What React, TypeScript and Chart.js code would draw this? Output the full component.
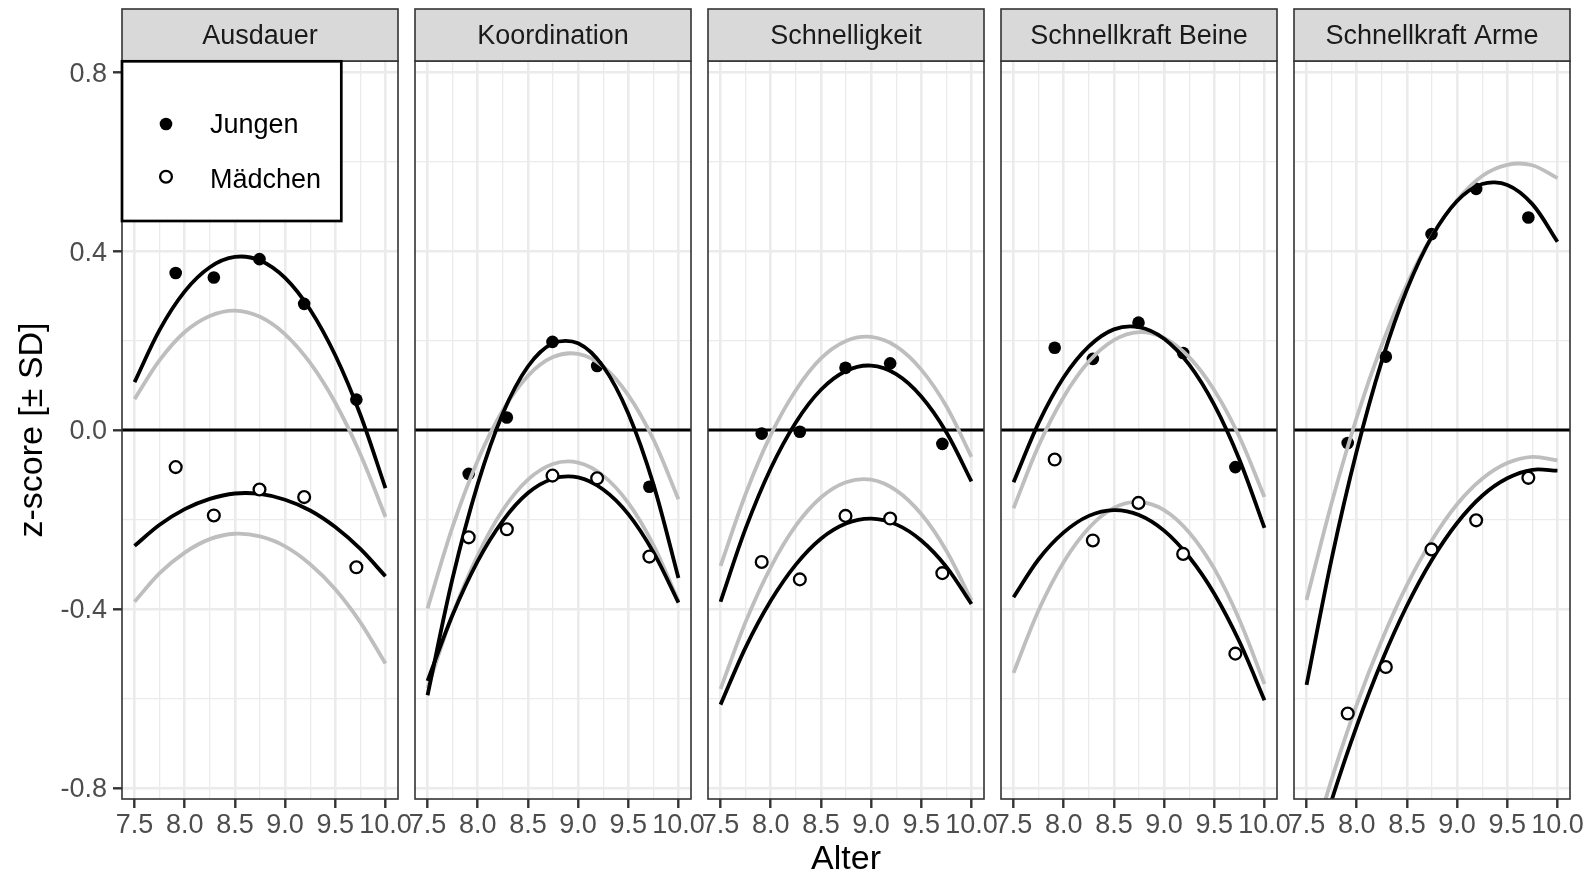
import React, { useEffect, useRef } from "react";
import { Chart, registerables } from "chart.js";

Chart.register(...registerables);
Chart.defaults.font.family = "'Liberation Sans', Arial, Helvetica, sans-serif";

// ---------------- data ----------------
const facetNames = ["Ausdauer", "Koordination", "Schnelligkeit", "Schnellkraft Beine", "Schnellkraft Arme"];
const legendLabels = ["Jungen", "Mädchen"];
const xAxisTitle = "Alter";
const yAxisTitle = "z-score [± SD]";

const pointAges = [7.91, 8.29, 8.745, 9.19, 9.71];
const curveAges = [7.5, 7.75, 8.0, 8.25, 8.5, 8.75, 9.0, 9.25, 9.5, 9.75, 10.0];

const xTickValues = [7.5, 7.75, 8.0, 8.25, 8.5, 8.75, 9.0, 9.25, 9.5, 9.75, 10.0];
const xTickLabels = ["7.5", "", "8.0", "", "8.5", "", "9.0", "", "9.5", "", "10.0"];
const yTickValues = [-0.8, -0.6, -0.4, -0.2, 0.0, 0.2, 0.4, 0.6, 0.8];
const yTickLabels = ["-0.8", "", "-0.4", "", "0.0", "", "0.4", "", "0.8"];
const xRange = [7.375, 10.125];
const yRange = [-0.825, 0.825];

// points per facet (Ausdauer, Koordination, Schnelligkeit, Schnellkraft Beine, Schnellkraft Arme)
const jungenPoints = [
  [0.351, 0.341, 0.382, 0.282, 0.068],
  [-0.098, 0.028, 0.197, 0.143, -0.127],
  [-0.008, -0.004, 0.139, 0.149, -0.031],
  [0.184, 0.159, 0.24, 0.172, -0.083],
  [-0.029, 0.164, 0.438, 0.539, 0.475],
];
const maedchenPoints = [
  [-0.083, -0.191, -0.133, -0.15, -0.307],
  [-0.24, -0.222, -0.102, -0.108, -0.283],
  [-0.295, -0.334, -0.192, -0.198, -0.32],
  [-0.066, -0.247, -0.163, -0.277, -0.5],
  [-0.634, -0.53, -0.267, -0.202, -0.107],
];

// fitted curves, read at curveAges
const jungenFitBlack = [
  [0.107, 0.224, 0.31, 0.364, 0.387, 0.379, 0.34, 0.269, 0.167, 0.034, -0.13],
  [-0.593, -0.331, -0.121, 0.037, 0.142, 0.194, 0.194, 0.142, 0.037, -0.121, -0.331],
  [-0.384, -0.22, -0.086, 0.017, 0.09, 0.132, 0.144, 0.125, 0.075, -0.005, -0.115],
  [-0.117, 0.016, 0.118, 0.187, 0.225, 0.23, 0.204, 0.146, 0.056, -0.066, -0.219],
  [-0.57, -0.288, -0.047, 0.154, 0.314, 0.433, 0.512, 0.55, 0.548, 0.505, 0.421],
];
const jungenFitGrey = [
  [0.069, 0.156, 0.219, 0.255, 0.267, 0.253, 0.214, 0.15, 0.061, -0.054, -0.194],
  [-0.399, -0.216, -0.068, 0.044, 0.121, 0.163, 0.17, 0.142, 0.078, -0.021, -0.155],
  [-0.304, -0.143, -0.011, 0.089, 0.16, 0.199, 0.208, 0.187, 0.135, 0.053, -0.06],
  [-0.175, -0.035, 0.074, 0.153, 0.201, 0.219, 0.206, 0.163, 0.089, -0.015, -0.15],
  [-0.38, -0.163, 0.028, 0.19, 0.326, 0.434, 0.514, 0.568, 0.593, 0.592, 0.563],
];
const maedchenFitBlack = [
  [-0.259, -0.212, -0.177, -0.154, -0.142, -0.143, -0.156, -0.18, -0.217, -0.266, -0.327],
  [-0.561, -0.413, -0.293, -0.203, -0.141, -0.109, -0.106, -0.133, -0.188, -0.273, -0.386],
  [-0.614, -0.486, -0.382, -0.301, -0.243, -0.209, -0.198, -0.211, -0.247, -0.306, -0.389],
  [-0.374, -0.289, -0.229, -0.192, -0.179, -0.19, -0.225, -0.284, -0.366, -0.473, -0.604],
  [-1.015, -0.828, -0.662, -0.517, -0.393, -0.29, -0.208, -0.147, -0.108, -0.089, -0.091],
];
const maedchenFitGrey = [
  [-0.384, -0.32, -0.274, -0.244, -0.232, -0.238, -0.26, -0.3, -0.356, -0.43, -0.522],
  [-0.577, -0.412, -0.28, -0.179, -0.111, -0.076, -0.073, -0.102, -0.163, -0.257, -0.383],
  [-0.579, -0.429, -0.307, -0.214, -0.151, -0.117, -0.111, -0.135, -0.188, -0.27, -0.381],
  [-0.543, -0.403, -0.295, -0.219, -0.174, -0.161, -0.179, -0.229, -0.31, -0.424, -0.568],
  [-0.97, -0.781, -0.614, -0.47, -0.347, -0.246, -0.166, -0.109, -0.074, -0.06, -0.068],
];

// ---------------- layout / style ----------------
const PAGE_W = 1590;
const PAGE_H = 879;
const PANEL_LEFTS = [122, 415, 708, 1001, 1294];
const PANEL_W = 276;
const PANEL_TOP = 61;
const PANEL_BOTTOM = 799;
const STRIP_TOP = 9;
const Y_AXIS_W = 122;
const PAD_L = 24;
const PAD_R = 30;

const GRID = "#EBEBEB";
const DARK = "#333333";
const TICK_TXT = "#4D4D4D";
const GREY_LINE = "#BEBEBE";
const FONT = "'Liberation Sans', Arial, Helvetica, sans-serif";
const CURVE_W = 3.8;

function toXY(xs: number[], ys: number[]) {
  return xs.map((x, i) => ({ x, y: ys[i] }));
}

function makePlugin(index: number) {
  return {
    id: "facetDecor" + index,
    beforeDatasetsDraw(chart: any) {
      const { ctx, chartArea, scales } = chart;
      const y0 = scales.y.getPixelForValue(0);
      ctx.save();
      ctx.beginPath();
      ctx.moveTo(chartArea.left, y0);
      ctx.lineTo(chartArea.right, y0);
      ctx.strokeStyle = "#000";
      ctx.lineWidth = 3;
      ctx.stroke();
      ctx.restore();
    },
    afterDraw(chart: any) {
      const { ctx, chartArea } = chart;
      const { left, right, top, bottom } = chartArea;
      ctx.save();
      // panel border
      ctx.strokeStyle = DARK;
      ctx.lineWidth = 1.6;
      ctx.strokeRect(left, top, right - left, bottom - top);
      // strip
      ctx.fillStyle = "#D9D9D9";
      ctx.fillRect(left, STRIP_TOP, right - left, top - STRIP_TOP);
      ctx.strokeRect(left, STRIP_TOP, right - left, top - STRIP_TOP);
      ctx.fillStyle = "#1A1A1A";
      ctx.font = "27px " + FONT;
      ctx.textAlign = "center";
      ctx.textBaseline = "alphabetic";
      ctx.fillText(facetNames[index], (left + right) / 2, 44.3);

      if (index === 0) {
        // legend box
        ctx.fillStyle = "#fff";
        ctx.fillRect(122, 61.3, 219.3, 159.7);
        ctx.strokeStyle = "#000";
        ctx.lineWidth = 2.7;
        ctx.strokeRect(122, 61.3, 219.3, 159.7);
        // Jungen key
        ctx.beginPath();
        ctx.arc(166, 124, 6.3, 0, Math.PI * 2);
        ctx.fillStyle = "#000";
        ctx.fill();
        // Mädchen key
        ctx.beginPath();
        ctx.arc(166, 176.7, 5.9, 0, Math.PI * 2);
        ctx.fillStyle = "#fff";
        ctx.fill();
        ctx.lineWidth = 2.3;
        ctx.strokeStyle = "#000";
        ctx.stroke();
        ctx.fillStyle = "#000";
        ctx.font = "27px " + FONT;
        ctx.textAlign = "left";
        ctx.textBaseline = "alphabetic";
        ctx.fillText(legendLabels[0], 210, 133.3);
        ctx.fillText(legendLabels[1], 210, 187.7);
      }
      ctx.restore();
    },
  };
}

function Panel({ index }: { index: number }) {
  const ref = useRef<HTMLCanvasElement | null>(null);
  const isFirst = index === 0;
  const padL = isFirst ? 0 : PAD_L;
  const yW = isFirst ? Y_AXIS_W : 0;
  const canvasLeft = PANEL_LEFTS[index] - padL - yW;
  const canvasW = padL + yW + PANEL_W + PAD_R;

  useEffect(() => {
    if (!ref.current) return;
    const lineDs = (label: string, ys: number[], color: string, order: number) => ({
      label,
      data: toXY(curveAges, ys),
      showLine: true,
      borderColor: color,
      borderWidth: CURVE_W,
      pointRadius: 0,
      tension: 0.33,
      fill: false,
      order,
      clip: 0,
    });
    const chart = new Chart(ref.current, {
      type: "scatter",
      data: {
        datasets: [
          {
            label: legendLabels[1],
            data: toXY(pointAges, maedchenPoints[index]),
            pointRadius: 5.9,
            pointBackgroundColor: "#fff",
            pointBorderColor: "#000",
            pointBorderWidth: 2.3,
            showLine: false,
            order: 1,
          },
          lineDs("Mädchen Fit", maedchenFitBlack[index], "#000", 2),
          lineDs("Jungen Fit", jungenFitBlack[index], "#000", 2),
          lineDs("Mädchen Fit (grau)", maedchenFitGrey[index], GREY_LINE, 3),
          lineDs("Jungen Fit (grau)", jungenFitGrey[index], GREY_LINE, 3),
          {
            label: legendLabels[0],
            data: toXY(pointAges, jungenPoints[index]),
            pointRadius: 6.3,
            pointBackgroundColor: "#000",
            pointBorderColor: "#000",
            pointBorderWidth: 0,
            showLine: false,
            order: 4,
          },
        ],
      } as any,
      options: {
        responsive: false,
        maintainAspectRatio: false,
        animation: false,
        events: [],
        layout: {
          autoPadding: false,
          padding: { top: PANEL_TOP, left: padL, right: PAD_R, bottom: 0 },
        },
        plugins: { legend: { display: false }, tooltip: { enabled: false } },
        scales: {
          x: {
            type: "linear",
            min: xRange[0],
            max: xRange[1],
            afterBuildTicks: (s: any) => {
              s.ticks = xTickValues.map((v) => ({ value: v }));
            },
            afterFit: (s: any) => {
              s.height = PAGE_H - PANEL_BOTTOM;
            },
            border: { display: false },
            grid: {
              color: GRID,
              lineWidth: (c: any) => (xTickLabels[c.index] ? 2.6 : 1.3),
              drawTicks: true,
              tickLength: 9,
              tickWidth: 2.4,
              tickColor: (c: any) => (xTickLabels[c.index] ? DARK : "rgba(0,0,0,0)"),
            },
            ticks: {
              autoSkip: false,
              maxRotation: 0,
              minRotation: 0,
              padding: 1,
              color: TICK_TXT,
              font: { size: 27, lineHeight: 1.2 },
              callback: (_v: any, i: number) => xTickLabels[i],
            },
            title: {
              display: index === 2,
              text: xAxisTitle,
              color: "#000",
              font: { size: 34, lineHeight: 1 },
              padding: { top: 0, bottom: 2 },
            },
          },
          y: {
            type: "linear",
            min: yRange[0],
            max: yRange[1],
            afterBuildTicks: (s: any) => {
              s.ticks = yTickValues.map((v) => ({ value: v }));
            },
            afterFit: (s: any) => {
              s.width = yW;
            },
            border: { display: false },
            grid: {
              color: GRID,
              lineWidth: (c: any) => (yTickLabels[c.index] ? 2.6 : 1.3),
              drawTicks: isFirst,
              tickLength: 9,
              tickWidth: 2.4,
              tickColor: (c: any) => (yTickLabels[c.index] ? DARK : "rgba(0,0,0,0)"),
            },
            ticks: {
              display: isFirst,
              autoSkip: false,
              padding: 6,
              labelOffset: 2,
              color: TICK_TXT,
              font: { size: 27, lineHeight: 1.2 },
              callback: (_v: any, i: number) => yTickLabels[i],
            },
            title: {
              display: isFirst,
              text: yAxisTitle,
              color: "#000",
              font: { size: 34, lineHeight: 1 },
              padding: { top: 16, bottom: 0 },
            },
          },
        },
      } as any,
      plugins: [makePlugin(index)],
    });
    return () => chart.destroy();
  }, [index]);

  return (
    <canvas
      ref={ref}
      width={canvasW}
      height={PAGE_H}
      style={{ position: "absolute", left: canvasLeft, top: 0, width: canvasW, height: PAGE_H }}
    />
  );
}

export default function App() {
  return (
    <div
      style={{
        position: "absolute",
        left: 0,
        top: 0,
        width: PAGE_W,
        height: PAGE_H,
        overflow: "hidden",
        background: "#fff",
      }}
    >
      {facetNames.map((_, i) => (
        <Panel key={i} index={i} />
      ))}
    </div>
  );
}
